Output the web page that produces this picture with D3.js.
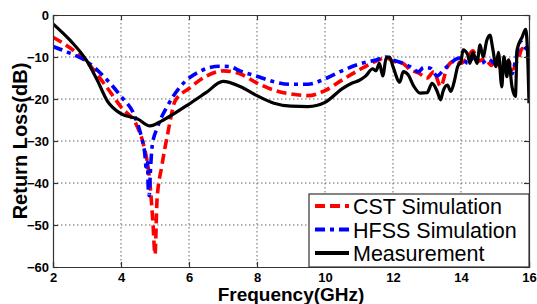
<!DOCTYPE html>
<html>
<head>
<meta charset="utf-8">
<script src="https://cdn.jsdelivr.net/npm/d3@7"></script>
<style>
  body { margin: 0; background: #fff; }
  svg { display: block; font-family: "Liberation Sans", Arial, sans-serif; }
</style>
</head>
<body>
<svg id="chart" width="537" height="304"></svg>
<script>
// values
var xTicks = [2, 4, 6, 8, 10, 12, 14, 16];
var yTicks = [0, -10, -20, -30, -40, -50, -60];

var cstFreq = [2.0, 2.5, 3.0, 3.5, 4.0, 4.5, 4.65, 4.85, 4.94, 5.0, 5.06, 5.2, 5.38, 5.59, 6.0, 6.5, 7.0, 7.5, 8.0, 8.5, 9.0, 9.5, 10.0, 10.5, 11.0, 11.5, 11.8, 12.0, 12.3, 12.5, 12.75, 13.0, 13.2, 13.4, 13.6, 13.8, 14.0, 14.2, 14.35, 14.5, 14.7, 14.9, 15.0, 15.2, 15.4, 15.5, 15.7, 15.8, 16.0];
var cstLoss = [-5.3, -7.8, -11.2, -16.3, -21.9, -27, -30.5, -40, -49.5, -57, -44, -36, -28, -20.5, -17.5, -14.6, -13.3, -14, -16.2, -17.9, -18.8, -19.2, -18, -15.5, -13.1, -11, -10.2, -11, -11.6, -13, -13.8, -15, -13.5, -17, -12.3, -11, -11.5, -10, -8.5, -11, -10.5, -12, -10.5, -13, -11, -13, -10, -8, -8];

var hfssFreq = [2.0, 2.5, 3.0, 3.5, 4.0, 4.4, 4.6, 4.7, 4.75, 4.78, 4.8, 4.83, 4.86, 4.92, 5.06, 5.35, 5.74, 6.3, 6.9, 7.2, 7.5, 8.0, 8.5, 9.0, 9.5, 10.0, 10.5, 11.0, 11.5, 11.8, 12.0, 12.3, 12.5, 12.75, 12.9, 13.1, 13.3, 13.5, 13.7, 13.85, 14.0, 14.2, 14.4, 14.6, 14.8, 15.0, 15.2, 15.4, 15.5, 15.6, 15.75, 15.85, 16.0];
var hfssLoss = [-7.5, -9.1, -11.1, -14.7, -19.4, -24, -29, -33, -37, -35, -41, -43, -38, -31, -27, -21.9, -17.1, -13.5, -12.2, -12.3, -13.3, -14.6, -15.9, -16.5, -16.5, -15.2, -13.3, -11.7, -10.7, -10, -10.7, -11.5, -12.3, -13.5, -12.5, -12.7, -14.5, -12.9, -11.5, -10.5, -10.2, -11.5, -10, -11.5, -10.5, -11.5, -10.8, -12, -14, -11, -6.3, -7.5, -8.5];

var measFreq = [2.0, 2.5, 3.0, 3.3, 3.6, 4.0, 4.5, 4.85, 5.2, 5.5, 6.0, 6.5, 7.0, 7.5, 8.0, 8.5, 9.0, 9.5, 10.0, 10.5, 10.8, 11.0, 11.2, 11.4, 11.5, 11.6, 11.7, 11.8, 11.9, 12.0, 12.2, 12.3, 12.45, 12.6, 12.8, 13.0, 13.15, 13.3, 13.4, 13.47, 13.6, 13.7, 13.8, 13.9, 14.0, 14.06, 14.2, 14.26, 14.35, 14.47, 14.56, 14.65, 14.76, 14.85, 14.94, 15.03, 15.1, 15.2, 15.26, 15.35, 15.4, 15.5, 15.6, 15.65, 15.8, 15.9, 15.95, 16.0];
var measLoss = [-2.1, -6.0, -11, -15.5, -20.5, -23.5, -24.8, -26.4, -25.2, -23.8, -21.2, -18.5, -15.8, -17, -19.2, -21, -21.7, -21.8, -20.8, -17.6, -16.2, -15.6, -14.5, -12.8, -13.3, -11.5, -14.5, -10.2, -10.0, -12.3, -16.0, -13.5, -14.3, -16.8, -18.6, -18.5, -16.3, -18.2, -20.2, -18.2, -16.7, -18.2, -15.9, -12.3, -11.1, -8.3, -9.5, -11.5, -8.9, -11.5, -7.1, -9.9, -6.0, -4.8, -8.3, -12.3, -8.9, -17.1, -9.9, -14.7, -10.7, -17.1, -19.4, -8.3, -5.2, -3.4, -7.5, -21];

var seriesNames = ["CST Simulation", "HFSS Simulation", "Measurement"];

var svg = d3.select("#chart");
var margin = { top: 15, right: 8, bottom: 37, left: 53 },
    width = 537 - margin.left - margin.right,
    height = 304 - margin.top - margin.bottom;

var x = d3.scaleLinear().domain([2, 16]).range([0, width]);
var y = d3.scaleLinear().domain([-60, 0]).range([height, 0]);

var g = svg.append("g")
    .attr("transform", "translate(" + margin.left + "," + margin.top + ")");

// dotted grid
g.append("g").selectAll("line").data(xTicks.slice(1, -1)).enter().append("line")
    .attr("x1", function (d) { return x(d); }).attr("x2", function (d) { return x(d); })
    .attr("y1", 0).attr("y2", height)
    .attr("stroke", "#666").attr("stroke-width", 1).attr("stroke-dasharray", "1.5,2.5");
g.append("g").selectAll("line").data(yTicks.slice(1, -1)).enter().append("line")
    .attr("y1", function (d) { return y(d); }).attr("y2", function (d) { return y(d); })
    .attr("x1", 0).attr("x2", width)
    .attr("stroke", "#666").attr("stroke-width", 1).attr("stroke-dasharray", "1.5,2.5");

var clip = svg.append("defs").append("clipPath").attr("id", "plotclip");
clip.append("rect").attr("width", width).attr("height", height);

function lineFor(fs, vs) {
    var pts = fs.map(function (f, i) { return [f, vs[i]]; });
    return d3.line()
        .x(function (d) { return x(d[0]); })
        .y(function (d) { return y(d[1]); })
        .curve(d3.curveMonotoneX)(pts);
}

var styles = [
    { color: "#ff0000", width: 3.6, dash: "10,5" },
    { color: "#0000ff", width: 3.6, dash: "10,5,4,5" },
    { color: "#000000", width: 3.2, dash: null }
];

var curves = g.append("g").attr("clip-path", "url(#plotclip)");
[[cstFreq, cstLoss], [hfssFreq, hfssLoss], [measFreq, measLoss]].forEach(function (s, i) {
    curves.append("path")
        .attr("d", lineFor(s[0], s[1]))
        .attr("fill", "none")
        .attr("stroke", styles[i].color)
        .attr("stroke-width", styles[i].width)
        .attr("stroke-linejoin", "round")
        .attr("stroke-dasharray", styles[i].dash);
});

// axes
var xAxis = g.append("g").attr("transform", "translate(0," + height + ")")
    .call(d3.axisBottom(x).tickValues(xTicks).tickSize(-5).tickPadding(5).tickFormat(d3.format("d")));
var yAxis = g.append("g")
    .call(d3.axisLeft(y).tickValues(yTicks).tickSize(-5).tickPadding(4).tickFormat(d3.format("d")));
g.append("g")
    .call(d3.axisTop(x).tickValues(xTicks).tickSize(-5).tickFormat(""));
g.append("g").attr("transform", "translate(" + width + ",0)")
    .call(d3.axisRight(y).tickValues(yTicks).tickSize(-5).tickFormat(""));

g.selectAll(".domain, .tick line").attr("stroke", "#333").attr("stroke-width", 1.2);
g.selectAll(".tick text")
    .attr("fill", "#000")
    .style("font-size", "13px")
    .style("font-weight", "bold")
    .style("font-family", "'Liberation Sans', Arial, sans-serif");
xAxis.selectAll(".tick text").attr("dy", "0.75em");

// axis titles
svg.append("text")
    .attr("x", margin.left + width / 2).attr("y", 301)
    .attr("text-anchor", "middle")
    .style("font-size", "19px").style("font-weight", "bold")
    .text("Frequency(GHz)");
svg.append("text")
    .attr("transform", "translate(27," + (margin.top + height / 2) + ") rotate(-90)")
    .attr("text-anchor", "middle")
    .style("font-size", "20px").style("font-weight", "bold")
    .text("Return Loss(dB)");

// legend
var legend = g.append("g").attr("transform", "translate(" + (width - 220) + "," + (height - 73) + ")");
legend.append("rect")
    .attr("width", 220).attr("height", 73)
    .attr("fill", "#fff").attr("stroke", "#333").attr("stroke-width", 1.2);
seriesNames.forEach(function (name, i) {
    var ly = 12 + i * 23.5;
    legend.append("line")
        .attr("x1", 6).attr("x2", 40).attr("y1", ly).attr("y2", ly)
        .attr("stroke", styles[i].color)
        .attr("stroke-width", styles[i].width + 0.6)
        .attr("stroke-dasharray", styles[i].dash);
    legend.append("text")
        .attr("x", 44).attr("y", ly + 8)
        .style("font-size", "21.5px")
        .text(name);
});
</script>
</body>
</html>
